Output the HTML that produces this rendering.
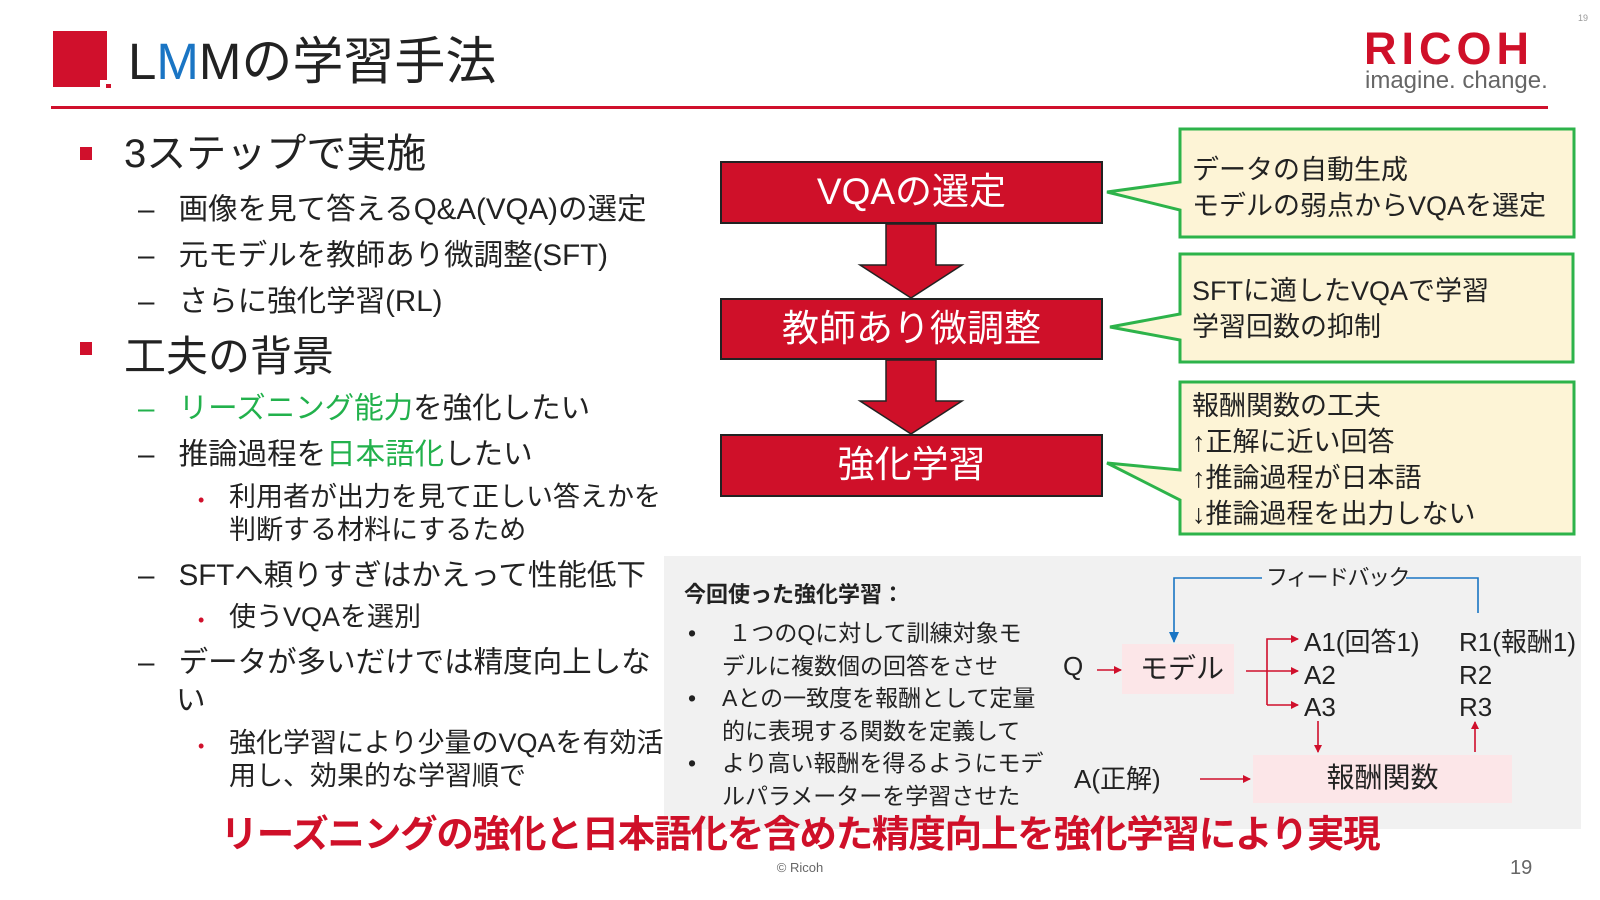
<!DOCTYPE html>
<html><head><meta charset="utf-8"><style>
*{margin:0;padding:0;box-sizing:border-box}
body{width:1600px;height:900px;background:#fff;position:relative;overflow:hidden;font-family:"Liberation Sans","Noto Sans CJK JP",sans-serif;color:#222}
.t{position:absolute;white-space:nowrap;line-height:1}
.g{color:#22b14c}
.r{color:#d0102c}
</style></head><body>
<svg width="1600" height="900" style="position:absolute;left:0;top:0">
<defs>
<marker id="ar" markerWidth="8" markerHeight="8" refX="7" refY="4" orient="auto" markerUnits="userSpaceOnUse"><path d="M0,0L8,4L0,8z" fill="#d0102c"/></marker>
</defs>
<rect x="53" y="31" width="54" height="56" fill="#d0102c"/>
<rect x="100" y="80" width="12" height="10" fill="#fff"/>
<rect x="106" y="84" width="5" height="4" fill="#d0102c"/>
<rect x="51" y="106" width="1497" height="3" fill="#d0102c"/>
<rect x="80" y="147" width="12" height="13" fill="#d0102c"/>
<rect x="80" y="342" width="12" height="13" fill="#d0102c"/>
<rect x="664" y="556" width="917" height="273" fill="#f1f1f1"/>
<rect x="721" y="162" width="381" height="61" fill="#cf1029" stroke="#222" stroke-width="2"/>
<rect x="721" y="299" width="381" height="60" fill="#cf1029" stroke="#222" stroke-width="2"/>
<rect x="721" y="435" width="381" height="61" fill="#cf1029" stroke="#222" stroke-width="2"/>
<path d="M886,224H936V265H962L911,298L860,265H886Z" fill="#cf1029" stroke="#222" stroke-width="1.5"/>
<path d="M886,360H936V401H962L911,434L860,401H886Z" fill="#cf1029" stroke="#222" stroke-width="1.5"/>
<path d="M1180,129H1574V237H1180V210L1107,192L1180,182Z" fill="#fdf4d6" stroke="#2db34a" stroke-width="3"/>
<path d="M1180,254H1573V362H1180V340L1110,327L1180,314Z" fill="#fdf4d6" stroke="#2db34a" stroke-width="3"/>
<path d="M1180,382H1574V534H1180V500L1107,463L1180,470Z" fill="#fdf4d6" stroke="#2db34a" stroke-width="3"/>
<rect x="1122" y="644" width="112" height="50" fill="#fce6e8"/>
<rect x="1253" y="755" width="259" height="48" fill="#fce6e8"/>
<line x1="1097" y1="670" x2="1121" y2="670" stroke="#d0102c" stroke-width="1.6" marker-end="url(#ar)"/>
<line x1="1246" y1="671" x2="1298" y2="671" stroke="#d0102c" stroke-width="1.6" marker-end="url(#ar)"/>
<path d="M1267,705V639H1298" fill="none" stroke="#d0102c" stroke-width="1.6" marker-end="url(#ar)"/>
<line x1="1267" y1="705" x2="1298" y2="705" stroke="#d0102c" stroke-width="1.6" marker-end="url(#ar)"/>
<line x1="1318" y1="721" x2="1318" y2="752" stroke="#d0102c" stroke-width="1.6" marker-end="url(#ar)"/>
<line x1="1475" y1="752" x2="1475" y2="722" stroke="#d0102c" stroke-width="1.6" marker-end="url(#ar)"/>
<line x1="1200" y1="779" x2="1250" y2="779" stroke="#d0102c" stroke-width="1.6" marker-end="url(#ar)"/>
<path d="M1262,578H1174V642" fill="none" stroke="#1a75c4" stroke-width="1.6"/>
<path d="M1169,632L1174,643L1179,632z" fill="#1a75c4"/>
<path d="M1406,578H1478V613" fill="none" stroke="#1a75c4" stroke-width="1.6"/>
</svg>

<div class="t" style="left:128px;top:36px;font-size:51px;color:#222">L<span style="color:#1a75c4">M</span>Mの学習手法</div>
<div class="t" style="left:1364px;top:26px;font-size:45px;font-weight:bold;color:#cf1029;letter-spacing:5px">RICOH</div>
<div class="t" style="left:1365px;top:69px;font-size:24px;color:#666">imagine. change.</div>
<div class="t" style="left:1578px;top:14px;font-size:9px;color:#999">19</div>

<div class="t" style="left:124px;top:134px;font-size:40px">3ステップで実施</div>
<div class="t" style="left:138px;top:195px;font-size:29.5px">–&nbsp;&nbsp;<span style="font-size:28px">&nbsp;</span>画像を見て答えるQ&amp;A(VQA)の選定</div>
<div class="t" style="left:138px;top:241px;font-size:29.5px">–&nbsp;&nbsp;<span style="font-size:28px">&nbsp;</span>元モデルを教師あり微調整(SFT)</div>
<div class="t" style="left:138px;top:287px;font-size:29.5px">–&nbsp;&nbsp;<span style="font-size:28px">&nbsp;</span>さらに強化学習(RL)</div>
<div class="t" style="left:124px;top:336px;font-size:42px">工夫の背景</div>
<div class="t" style="left:138px;top:394px;font-size:29.5px"><span class="g">–&nbsp;&nbsp;<span style="font-size:28px">&nbsp;</span>リーズニング能力</span>を強化したい</div>
<div class="t" style="left:138px;top:440px;font-size:29.5px">–&nbsp;&nbsp;<span style="font-size:28px">&nbsp;</span>推論過程を<span class="g">日本語化</span>したい</div>
<div class="t" style="left:198px;top:484px;font-size:27px"><span class="r" style="font-size:18px">•</span></div>
<div class="t" style="left:229px;top:484px;font-size:27px">利用者が出力を見て正しい答えかを</div>
<div class="t" style="left:229px;top:517px;font-size:27px">判断する材料にするため</div>
<div class="t" style="left:138px;top:561px;font-size:29.5px">–&nbsp;&nbsp;<span style="font-size:28px">&nbsp;</span>SFTへ頼りすぎはかえって性能低下</div>
<div class="t" style="left:198px;top:604px;font-size:27px"><span class="r" style="font-size:18px">•</span></div>
<div class="t" style="left:229px;top:604px;font-size:27px">使うVQAを選別</div>
<div class="t" style="left:138px;top:648px;font-size:29.5px">–&nbsp;&nbsp;<span style="font-size:28px">&nbsp;</span>データが多いだけでは精度向上しな</div>
<div class="t" style="left:176px;top:686px;font-size:29.5px">い</div>
<div class="t" style="left:198px;top:730px;font-size:27px"><span class="r" style="font-size:18px">•</span></div>
<div class="t" style="left:229px;top:730px;font-size:27px">強化学習により少量のVQAを有効活</div>
<div class="t" style="left:229px;top:763px;font-size:27px">用し、効果的な学習順で</div>

<div class="t" style="left:721px;top:173px;width:381px;text-align:center;font-size:37px;color:#fff">VQAの選定</div>
<div class="t" style="left:721px;top:310px;width:381px;text-align:center;font-size:37px;color:#fff">教師あり微調整</div>
<div class="t" style="left:721px;top:446px;width:381px;text-align:center;font-size:37px;color:#fff">強化学習</div>

<div class="t" style="left:1192px;top:152px;font-size:27px;line-height:36px">データの自動生成<br>モデルの弱点からVQAを選定</div>
<div class="t" style="left:1192px;top:273px;font-size:27px;line-height:36px">SFTに適したVQAで学習<br>学習回数の抑制</div>
<div class="t" style="left:1192px;top:388px;font-size:27px;line-height:36px">報酬関数の工夫<br>↑正解に近い回答<br>↑推論過程が日本語<br>↓推論過程を出力しない</div>

<div class="t" style="left:684px;top:584px;font-size:22px;font-weight:bold">今回使った強化学習：</div>
<div class="t" style="left:688px;top:617px;font-size:23px;line-height:32.5px">•<br><br>•<br><br>•</div>
<div class="t" style="left:722px;top:617px;font-size:23px;line-height:32.5px">&nbsp;１つのQに対して訓練対象モ<br>デルに複数個の回答をさせ<br>Aとの一致度を報酬として定量<br>的に表現する関数を定義して<br>より高い報酬を得るようにモデ<br>ルパラメーターを学習させた</div>

<div class="t" style="left:1266px;top:567px;font-size:22px;letter-spacing:-1.5px">フィードバック</div>
<div class="t" style="left:1063px;top:653px;font-size:26px">Q</div>
<div class="t" style="left:1140px;top:655px;font-size:28px">モデル</div>
<div class="t" style="left:1304px;top:626px;font-size:26px;line-height:32.5px">A1(回答1)<br>A2<br>A3</div>
<div class="t" style="left:1459px;top:626px;font-size:26px;line-height:32.5px">R1(報酬1)<br>R2<br>R3</div>
<div class="t" style="left:1074px;top:766px;font-size:26px">A(正解)</div>
<div class="t" style="left:1253px;top:764px;width:259px;text-align:center;font-size:28px">報酬関数</div>

<div class="t" style="left:0;top:816px;width:1600px;text-align:center;font-size:37.5px;font-weight:bold;color:#cf1029;letter-spacing:-1.2px">リーズニングの強化と日本語化を含めた精度向上を強化学習により実現</div>
<div class="t" style="left:0;top:861px;width:1600px;text-align:center;font-size:13px;color:#666">© Ricoh</div>
<div class="t" style="left:1510px;top:858px;font-size:20px;color:#666">19</div>
</body></html>
